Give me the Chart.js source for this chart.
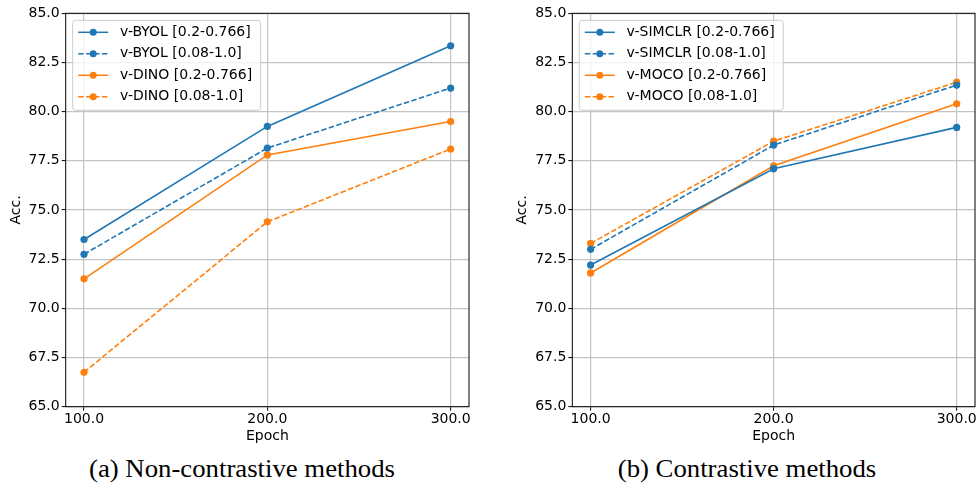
<!DOCTYPE html>
<html>
<head>
<meta charset="utf-8">
<script src="https://cdn.jsdelivr.net/npm/chart.js@4.4.1/dist/chart.umd.min.js"></script>
<style>
  html, body { margin: 0; padding: 0; background: #fff; }
  body { width: 979px; height: 484px; position: relative; overflow: hidden; }
  canvas { position: absolute; top: 0; }
  .caption {
    position: absolute; top: 455px; font-family: "Liberation Serif", "Times New Roman", serif;
    font-size: 25px; line-height: 28px; color: #000; white-space: nowrap;
    transform: translateX(-50%) scaleX(1.07);
  }
</style>
</head>
<body>
<canvas id="leftChart" width="485" height="445" style="left:0px"></canvas>
<canvas id="rightChart" width="489" height="445" style="left:490px"></canvas>
<div class="caption" style="left:242px">(a) Non-contrastive methods</div>
<div class="caption" style="left:747px">(b) Contrastive methods</div>
<script>
// data
const epochs = [100, 200, 300];
const yTickValues = [65, 67.5, 70, 72.5, 75, 77.5, 80, 82.5, 85];

const byolNarrow = [73.5, 79.25, 83.35];
const byolWide = [72.75, 78.15, 81.2];
const dinoNarrow = [71.5, 77.8, 79.5];
const dinoWide = [66.75, 74.4, 78.1];

const simclrNarrow = [72.2, 77.1, 79.2];
const simclrWide = [73.0, 78.3, 81.35];
const mocoNarrow = [71.8, 77.25, 80.4];
const mocoWide = [73.3, 78.5, 81.5];

const BLUE = '#1f77b4';
const ORANGE = '#ff7f0e';
const FONT = 'DejaVu Sans';
const FONT_SIZE = 14;

// matplotlib-ish legend in the upper left of the axes
const matLegend = {
    id: 'matLegend',
    afterDatasetsDraw(chart) {
        const ctx = chart.ctx;
        const area = chart.chartArea;
        const items = chart.data.datasets;
        ctx.save();
        ctx.font = FONT_SIZE + 'px "' + FONT + '"';
        const textW = Math.max(...items.map(d => ctx.measureText(d.label).width));
        const x0 = area.left + 7, y0 = area.top + 7;
        const w = 47.3 + textW + 8.5, h = 90;

        ctx.beginPath();
        ctx.roundRect(x0, y0, w, h, 3);
        ctx.fillStyle = 'rgba(255,255,255,0.8)';
        ctx.fill();
        ctx.strokeStyle = '#cccccc';
        ctx.lineWidth = 1;
        ctx.stroke();

        items.forEach((d, i) => {
            const y = y0 + 12 + i * 21.5;
            ctx.strokeStyle = d.borderColor;
            ctx.lineWidth = 1.5;
            ctx.setLineDash(d.borderDash || []);
            ctx.beginPath();
            ctx.moveTo(x0 + 5.5, y);
            ctx.lineTo(x0 + 35.5, y);
            ctx.stroke();
            ctx.setLineDash([]);
            ctx.beginPath();
            ctx.arc(x0 + 20.5, y, 3.5, 0, Math.PI * 2);
            ctx.fillStyle = d.borderColor;
            ctx.fill();
            ctx.fillStyle = '#000';
            ctx.textBaseline = 'middle';
            ctx.textAlign = 'left';
            ctx.fillText(d.label, x0 + 47.3, y);
        });
        ctx.restore();
    }
};

// four black spines
const spines = {
    id: 'spines',
    afterDraw(chart) {
        const a = chart.chartArea;
        const ctx = chart.ctx;
        ctx.save();
        ctx.strokeStyle = '#000';
        ctx.lineWidth = 1;
        ctx.strokeRect(a.left, a.top, a.right - a.left, a.bottom - a.top);
        ctx.restore();
    }
};

function series(label, values, color, dashed) {
    return {
        label: label,
        data: epochs.map((e, i) => ({ x: e, y: values[i] })),
        borderColor: color,
        backgroundColor: color,
        borderWidth: 1.6,
        borderDash: dashed ? [5.5, 2.4] : [],
        pointRadius: 3.6,
        pointBorderWidth: 0,
        pointBackgroundColor: color,
        tension: 0,
        fill: false
    };
}

function makeChart(id, datasets, padLeft, padRight, yWidth) {
    const font = { family: FONT, size: FONT_SIZE };
    new Chart(document.getElementById(id), {
        type: 'line',
        data: { datasets: datasets },
        options: {
            responsive: false,
            animation: false,
            layout: { padding: { left: padLeft, top: 13.3, right: padRight, bottom: 0 } },
            plugins: { legend: { display: false }, tooltip: { enabled: false } },
            scales: {
                x: {
                    type: 'linear',
                    min: 90,
                    max: 310,
                    afterBuildTicks: s => { s.ticks = epochs.map(v => ({ value: v })); },
                    afterFit: s => { s.height = 38.3; s.paddingLeft = 0; s.paddingRight = 0; },
                    ticks: {
                        callback: v => v.toFixed(1),
                        font: font,
                        color: '#000',
                        padding: 0,
                        maxRotation: 0,
                        autoSkip: false
                    },
                    grid: { color: '#c4c4c4', lineWidth: 1.2, tickLength: 4, tickColor: '#000', tickWidth: 1 },
                    border: { display: false },
                    title: { display: true, text: 'Epoch', font: font, color: '#000', padding: 0 }
                },
                y: {
                    min: 65,
                    max: 85,
                    afterBuildTicks: s => { s.ticks = yTickValues.map(v => ({ value: v })); },
                    afterFit: s => { s.width = yWidth; s.paddingTop = 0; s.paddingBottom = 0; },
                    ticks: {
                        callback: v => v.toFixed(1),
                        font: font,
                        color: '#000',
                        padding: 2,
                        autoSkip: false
                    },
                    grid: { color: '#c4c4c4', lineWidth: 1.2, tickLength: 4, tickColor: '#000', tickWidth: 1 },
                    border: { display: false },
                    title: { display: true, text: 'Acc.', font: font, color: '#000', padding: 0 }
                }
            }
        },
        plugins: [matLegend, spines]
    });
}

makeChart('leftChart', [
    series('v-BYOL [0.2-0.766]', byolNarrow, BLUE, false),
    series('v-BYOL [0.08-1.0]', byolWide, BLUE, true),
    series('v-DINO [0.2-0.766]', dinoNarrow, ORANGE, false),
    series('v-DINO [0.08-1.0]', dinoWide, ORANGE, true)
], 8, 16, 57.7);

makeChart('rightChart', [
    series('v-SIMCLR [0.2-0.766]', simclrNarrow, BLUE, false),
    series('v-SIMCLR [0.08-1.0]', simclrWide, BLUE, true),
    series('v-MOCO [0.2-0.766]', mocoNarrow, ORANGE, false),
    series('v-MOCO [0.08-1.0]', mocoWide, ORANGE, true)
], 24, 2.3, 58.3);
</script>
</body>
</html>
